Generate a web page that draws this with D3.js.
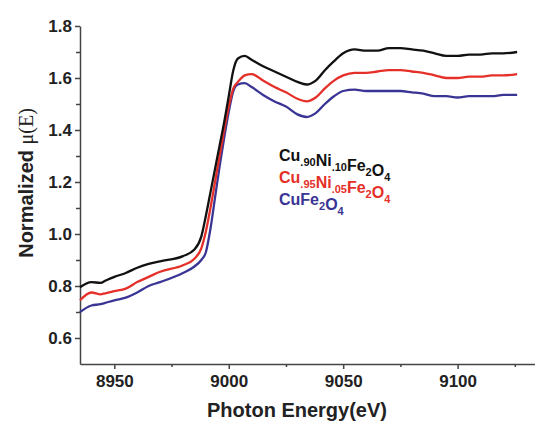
<!DOCTYPE html>
<html>
<head>
<meta charset="utf-8">
<script src="https://d3js.org/d3.v7.min.js"></script>
<style>
body { margin: 0; background: #fff; }
text { font-family: "Liberation Sans", Arial, sans-serif; font-weight: bold; }
.axis path, .axis line { stroke: #444; stroke-width: 1.5px; }
.curve { fill: none; stroke-width: 2.3px; stroke-linejoin: round; }
</style>
</head>
<body>
<svg width="535" height="422"></svg>
<script>

// photon energy (eV)
var energy = [8935, 8940, 8944, 8946, 8950, 8955, 8960, 8965, 8970, 8980, 8985, 8988,
  8990, 8992, 8994, 8996, 8998, 9000, 9002, 9004, 9007, 9010, 9015, 9020, 9025, 9030,
  9034, 9038, 9042, 9046, 9050, 9055, 9060, 9065, 9070, 9075, 9080, 9085, 9090, 9095,
  9100, 9105, 9110, 9115, 9120, 9126];

var cuNi10 = [0.795, 0.815, 0.812, 0.82, 0.835, 0.85, 0.87, 0.885, 0.895, 0.915, 0.94, 0.99,
  1.07, 1.16, 1.25, 1.34, 1.43, 1.53, 1.63, 1.675, 1.685, 1.67, 1.645, 1.625, 1.605, 1.585,
  1.575, 1.59, 1.63, 1.665, 1.695, 1.71, 1.705, 1.705, 1.715, 1.715, 1.71, 1.705, 1.695, 1.685,
  1.685, 1.69, 1.69, 1.695, 1.695, 1.70];

var cuNi05 = [0.745, 0.775, 0.768, 0.772, 0.78, 0.79, 0.815, 0.835, 0.855, 0.88, 0.905, 0.945,
  1.01, 1.10, 1.20, 1.30, 1.40, 1.49, 1.56, 1.585, 1.61, 1.615, 1.59, 1.565, 1.545, 1.52,
  1.51, 1.525, 1.56, 1.59, 1.61, 1.62, 1.62, 1.625, 1.63, 1.63, 1.625, 1.62, 1.61, 1.60,
  1.60, 1.605, 1.605, 1.61, 1.61, 1.615];

var cuFe = [0.70, 0.725, 0.73, 0.735, 0.745, 0.755, 0.775, 0.80, 0.815, 0.85, 0.875, 0.90,
  0.93, 1.02, 1.14, 1.26, 1.37, 1.47, 1.55, 1.575, 1.58, 1.565, 1.535, 1.51, 1.49, 1.46,
  1.45, 1.465, 1.50, 1.53, 1.55, 1.555, 1.55, 1.55, 1.55, 1.55, 1.545, 1.54, 1.53, 1.53,
  1.525, 1.53, 1.53, 1.53, 1.535, 1.535];

var seriesColors = ["#111111", "#e5302a", "#3a3594"];

// legend labels: [text, subscript] pairs
var legendLabels = [
  [["Cu", ".90"], ["Ni", ".10"], ["Fe", "2"], ["O", "4"]],
  [["Cu", ".95"], ["Ni", ".05"], ["Fe", "2"], ["O", "4"]],
  [["CuFe", "2"], ["O", "4"]]
];

var xMajor = [8950, 9000, 9050, 9100];
var xMinor = [8975, 9025, 9075, 9125];
var yMajor = [0.6, 0.8, 1.0, 1.2, 1.4, 1.6, 1.8];
var yMinor = [0.7, 0.9, 1.1, 1.3, 1.5, 1.7];

var svg = d3.select("svg");

var x = d3.scaleLinear().domain([8935, 9136]).range([80, 540]);
var y = d3.scaleLinear().domain([0.5, 1.8]).range([364, 26]);

// minor ticks first, then major with labels
svg.append("g").attr("class", "axis")
    .attr("transform", "translate(0,364)")
    .call(d3.axisBottom(x).tickValues(xMinor).tickSize(3).tickFormat(""))
    .select(".domain").remove();
svg.append("g").attr("class", "axis")
    .attr("transform", "translate(80,0)")
    .call(d3.axisLeft(y).tickValues(yMinor).tickSize(4).tickFormat(""))
    .select(".domain").remove();

var xAxis = svg.append("g").attr("class", "axis")
    .attr("transform", "translate(0,364)")
    .call(d3.axisBottom(x).tickValues(xMajor).tickSize(5).tickSizeOuter(0).tickPadding(6).tickFormat(d3.format("d")));
xAxis.selectAll("text").style("font-size", "17px").style("fill", "#222");

var yAxis = svg.append("g").attr("class", "axis")
    .attr("transform", "translate(80,0)")
    .call(d3.axisLeft(y).tickValues(yMajor).tickSize(5).tickSizeOuter(0).tickPadding(3).tickFormat(d3.format(".1f")));
yAxis.selectAll("text").style("font-size", "17px").style("fill", "#222");

var line = d3.line()
    .x(function(d) { return x(d[0]); })
    .y(function(d) { return y(d[1]); })
    .curve(d3.curveMonotoneX);

[cuFe, cuNi05, cuNi10].forEach(function(vals, i) {
  svg.append("path")
      .attr("class", "curve")
      .attr("stroke", seriesColors[2 - i])
      .attr("d", line(energy.map(function(e, k) { return [e, vals[k]]; })));
});

// legend
legendLabels.forEach(function(parts, i) {
  var t = svg.append("text")
      .attr("x", 279)
      .attr("y", 161 + i * 22)
      .style("font-size", "16px")
      .style("fill", seriesColors[i]);
  parts.forEach(function(p) {
    t.append("tspan").text(p[0]);
    t.append("tspan").attr("dy", 5).style("font-size", "11px").text(p[1]);
    t.append("tspan").attr("dy", -5).text("");
  });
});

// axis titles
svg.append("text")
    .attr("x", 297)
    .attr("y", 417)
    .attr("text-anchor", "middle")
    .style("font-size", "20px")
    .style("fill", "#222")
    .text("Photon Energy(eV)");

var yt = svg.append("text")
    .attr("transform", "translate(33,183) rotate(-90)")
    .attr("text-anchor", "middle")
    .style("font-size", "20px")
    .style("fill", "#222");
yt.append("tspan").text("Normalized ");
yt.append("tspan")
    .style("font-family", "'Liberation Serif', serif")
    .style("font-weight", "normal")
    .text("\u03bc(E)");

</script>
</body>
</html>
